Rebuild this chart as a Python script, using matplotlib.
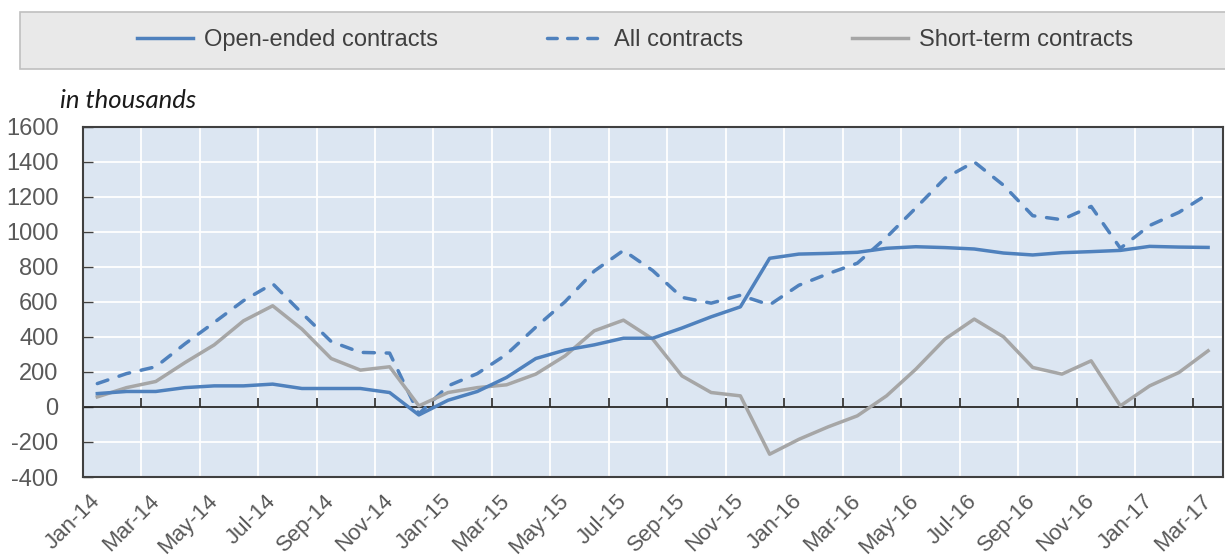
import numpy as np
import matplotlib
matplotlib.use("Agg")
import matplotlib.pyplot as plt
from matplotlib.patches import Rectangle
from matplotlib.lines import Line2D

plt.rcParams['font.family'] = ['Liberation Sans', 'DejaVu Sans']
plt.rcParams['axes.unicode_minus'] = False

# monthly data, Jan-14 .. Mar-17 (in thousands)
months = ['Jan-14', 'Feb-14', 'Mar-14', 'Apr-14', 'May-14', 'Jun-14', 'Jul-14', 'Aug-14',
          'Sep-14', 'Oct-14', 'Nov-14', 'Dec-14', 'Jan-15', 'Feb-15', 'Mar-15', 'Apr-15',
          'May-15', 'Jun-15', 'Jul-15', 'Aug-15', 'Sep-15', 'Oct-15', 'Nov-15', 'Dec-15',
          'Jan-16', 'Feb-16', 'Mar-16', 'Apr-16', 'May-16', 'Jun-16', 'Jul-16', 'Aug-16',
          'Sep-16', 'Oct-16', 'Nov-16', 'Dec-16', 'Jan-17', 'Feb-17', 'Mar-17']
open_ended = [76, 88, 88, 110, 120, 120, 130, 105, 105, 105, 82, -46, 38, 88, 168, 276,
              324, 354, 392, 392, 450, 514, 571, 848, 872, 876, 882, 905, 914, 909, 901, 878,
              867, 880, 886, 893, 916, 912, 910]
all_contracts = [133, 190, 229, 360, 482, 606, 703, 535, 373, 311, 307, -40, 120, 190, 300, 455,
                 600, 775, 893, 778, 625, 592, 637, 582, 694, 760, 820, 968, 1135, 1305, 1398, 1265,
                 1091, 1068, 1144, 905, 1035, 1110, 1215]
short_term = [57, 110, 145, 253, 354, 491, 577, 444, 276, 210, 229, 6, 82, 110, 126, 187,
              291, 434, 495, 387, 177, 82, 63, -270, -185, -114, -51, 63, 215, 387, 501, 400,
              225, 187, 263, 6, 120, 196, 320]

blue = '#4f81bd'
grey = '#a6a6a6'
txt = '#595959'

fig = plt.figure(figsize=(12.25, 5.58), dpi=100)
ax = fig.add_axes([82.7 / 1225, 1 - 477 / 558, 1140 / 1225, 350.5 / 558])
ax.set_facecolor('#dce6f2')

x = np.arange(len(months))
lw = 2.5
dash = (3.2, 3.4)
ax.plot(x, open_ended, color=blue, lw=lw, solid_joinstyle='round', zorder=4)
ax.plot(x, all_contracts, color=blue, lw=lw, dashes=dash, dash_capstyle='round', zorder=3)
ax.plot(x, short_term, color=grey, lw=lw, solid_joinstyle='round', zorder=3)

ax.set_xlim(-0.5, len(months) - 0.5)
ax.set_ylim(-400, 1600)
ax.set_yticks(np.arange(-400, 1601, 200))

# vertical grid at category boundaries every 2 months
bounds = np.arange(1.5, len(months) - 1, 2)
ax.set_xticks(bounds)
ax.set_xticklabels([])
ax.tick_params(axis='x', which='major', length=0)
ax.set_xticks(x[::2], minor=True)
ax.set_xticklabels(months[::2], minor=True, rotation=45, ha='right', va='center',
                   rotation_mode='anchor', fontsize=16, color=txt)
ax.tick_params(axis='x', which='minor', length=0, pad=15)
ax.grid(True, which='major', color='white', lw=1.3, zorder=0)
ax.set_axisbelow(True)

ax.tick_params(axis='y', direction='in', length=7, width=1, color='#404040',
               labelsize=17, labelcolor=txt, pad=17.5)

ax.axhline(0, color='#262626', lw=1.3, zorder=2)
ax.vlines(bounds, 0, 48, color='#262626', lw=1.2, zorder=2)

for s in ax.spines.values():
    s.set_color('#404040')
    s.set_linewidth(1.5)

fig.text(60 / 1225, 1 - 101 / 558, 'in thousands', style='italic', fontsize=18.5,
         family=['Lato', 'DejaVu Sans'], va='center', ha='left', color='#1a1a1a')

# legend band
fig.patches.append(Rectangle((20 / 1225, 1 - 69 / 558), 1210 / 1225, 57 / 558,
                             transform=fig.transFigure, facecolor='#e9e9e9',
                             edgecolor='#bfbfbf', lw=1.2, zorder=0))
handles = [Line2D([], [], color=blue, lw=lw),
           Line2D([], [], color=blue, lw=lw, dashes=(2.8, 3.0), dash_capstyle='round'),
           Line2D([], [], color=grey, lw=lw)]
fig.legend(handles, ['Open-ended contracts', 'All contracts', 'Short-term contracts'],
           loc='center', bbox_to_anchor=(635 / 1225, 1 - 40 / 558), ncol=3, frameon=False,
           fontsize=17, handlelength=2.4, handletextpad=0.45, columnspacing=4.6,
           labelcolor='#404040')

fig.savefig('out.png', dpi=100)
